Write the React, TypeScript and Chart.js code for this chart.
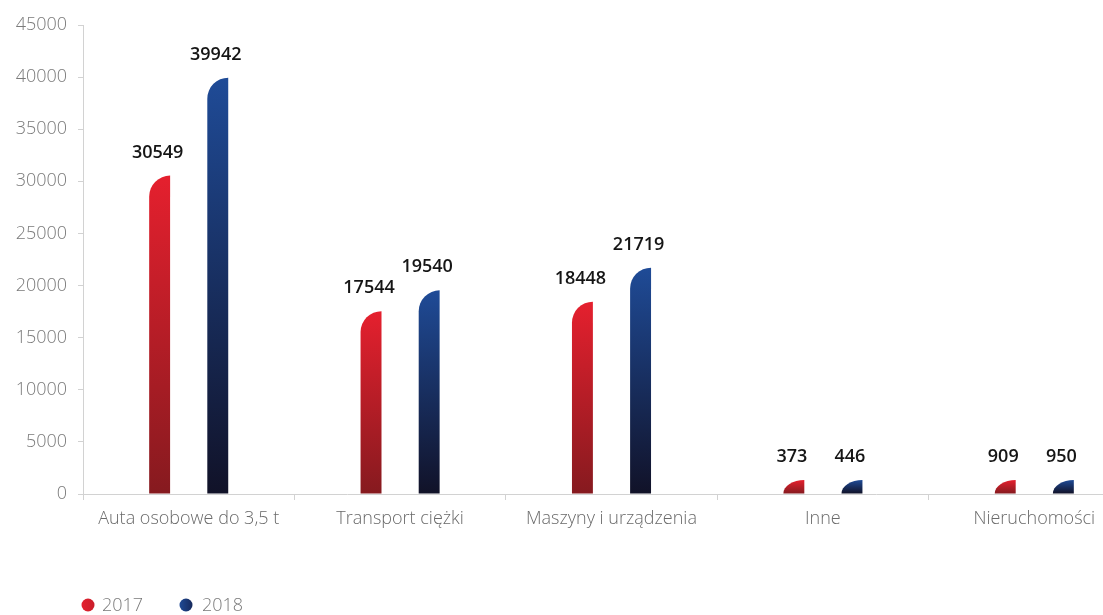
import React, { useEffect, useRef } from "react";
import { Chart, registerables } from "chart.js";

Chart.register(...registerables);

const categories = [
  "Auta osobowe do 3,5 t",
  "Transport ciężki",
  "Maszyny i urządzenia",
  "Inne",
  "Nieruchomości",
];
const values2017 = [30549, 17544, 18448, 373, 909];
const values2018 = [39942, 19540, 21719, 446, 950];
const seriesNames = ["2017", "2018"];
const topColors = ["#e5202e", "#1f4b97"];
const bottomColors = ["#861a1f", "#111228"];
const legendColors = ["#c81e2a", "#16285a"];
const yMin = 0;
const yMax = 45000;
const yStep = 5000;

const FONT = "'Open Sans', 'Noto Sans', sans-serif";

const barPlugin = {
  id: "roundedGradientBars",
  afterDatasetsDraw(chart: any) {
    const ctx = chart.ctx;
    chart.data.datasets.forEach((ds: any, di: number) => {
      const meta = chart.getDatasetMeta(di);
      meta.data.forEach((el: any, i: number) => {
        const { x, y, base, width } = el.getProps(["x", "y", "base", "width"], true);
        const left = x - width / 2;
        const right = x + width / 2;
        const top = Math.min(y, base);
        const bottom = Math.max(y, base);
        const h = bottom - top;
        const ry = Math.min(width, h);
        const g = ctx.createLinearGradient(0, top, 0, bottom);
        g.addColorStop(0, topColors[di]);
        g.addColorStop(1, bottomColors[di]);
        ctx.save();
        ctx.beginPath();
        ctx.moveTo(left, bottom);
        ctx.lineTo(left, top + ry);
        ctx.ellipse(right, top + ry, width, ry, 0, Math.PI, 1.5 * Math.PI);
        ctx.lineTo(right, bottom);
        ctx.closePath();
        ctx.fillStyle = g;
        ctx.fill();
        ctx.font = `600 18px ${FONT}`;
        ctx.fillStyle = "#151515";
        ctx.textAlign = "center";
        ctx.textBaseline = "middle";
        ctx.fillText(String(ds.data[i]), x - 2, top - 23);
        ctx.restore();
      });
    });
  },
  afterDraw(chart: any) {
    const ctx = chart.ctx;
    const items = [
      { cx: 88, tx: 102 },
      { cx: 186, tx: 202 },
    ];
    ctx.save();
    seriesNames.forEach((name, i) => {
      const cy = 605;
      const g = ctx.createLinearGradient(items[i].cx - 7, 0, items[i].cx + 7, 0);
      g.addColorStop(0, topColors[i]);
      g.addColorStop(1, legendColors[i]);
      ctx.beginPath();
      ctx.arc(items[i].cx, cy, 6.5, 0, Math.PI * 2);
      ctx.fillStyle = g;
      ctx.fill();
      ctx.font = `300 18px ${FONT}`;
      ctx.fillStyle = "#7a7a7a";
      ctx.textAlign = "left";
      ctx.textBaseline = "middle";
      ctx.fillText(name, items[i].tx, cy + 1);
    });
    ctx.restore();
  },
};

export default function App() {
  const ref = useRef<HTMLCanvasElement | null>(null);

  useEffect(() => {
    if (!ref.current) return;
    const chart = new Chart(ref.current, {
      type: "bar",
      data: {
        labels: categories,
        datasets: [
          {
            label: seriesNames[0],
            data: values2017,
            backgroundColor: "rgba(0,0,0,0)",
            borderWidth: 0,
          },
          {
            label: seriesNames[1],
            data: values2018,
            backgroundColor: "rgba(0,0,0,0)",
            borderWidth: 0,
          },
        ],
      },
      plugins: [barPlugin],
      options: {
        responsive: false,
        animation: false,
        events: [],
        datasets: {
          bar: {
            categoryPercentage: 0.55,
            barPercentage: 0.36,
            minBarLength: 14,
          },
        },
        layout: { padding: { left: 0, right: 20, top: 25, bottom: 71 } },
        plugins: {
          legend: { display: false },
          tooltip: { enabled: false },
        },
        scales: {
          x: {
            grid: {
              display: true,
              drawOnChartArea: false,
              drawTicks: true,
              tickLength: 6,
              color: "#d2d2d2",
              offset: true,
            },
            border: { display: true, color: "#d2d2d2", width: 1 },
            ticks: {
              color: "#6a6a6a",
              font: { family: FONT, size: 18, weight: "300" as any },
              padding: 8,
              maxRotation: 0,
              autoSkip: false,
            },
            afterFit: (scale: any) => {
              scale.height = 50;
            },
          },
          y: {
            min: yMin,
            max: yMax,
            grid: {
              display: true,
              drawOnChartArea: false,
              drawTicks: true,
              tickLength: 5,
              color: "#d2d2d2",
            },
            border: { display: true, color: "#d2d2d2", width: 1 },
            ticks: {
              stepSize: yStep,
              color: "#7a7a7a",
              font: { family: FONT, size: 18, weight: "300" as any },
              padding: 11,
              callback: (v: any) => String(v),
            },
            afterFit: (scale: any) => {
              scale.width = 83;
            },
          },
        },
      },
    });
    return () => chart.destroy();
  }, []);

  return (
    <div
      style={{
        position: "fixed",
        left: 0,
        top: 0,
        width: 1103,
        height: 615,
        overflow: "hidden",
        background: "#fff",
      }}
    >
      <canvas
        ref={ref}
        width={1160}
        height={615}
        style={{ position: "absolute", left: 0, top: 0, width: 1160, height: 615 }}
      />
    </div>
  );
}
